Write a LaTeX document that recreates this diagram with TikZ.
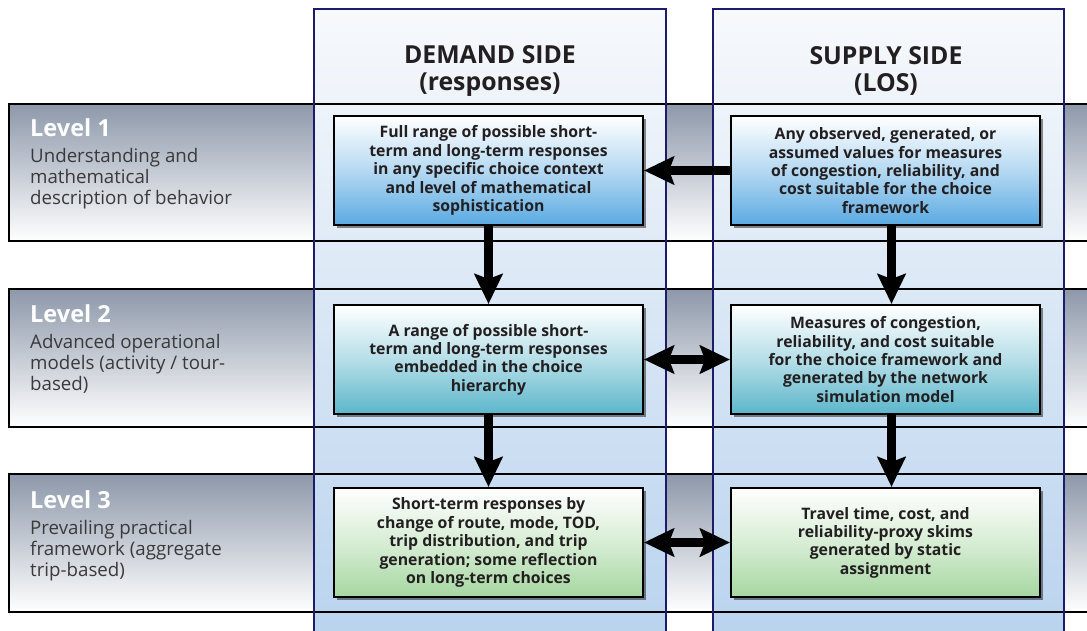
\documentclass[tikz,border=0pt]{standalone}
\usepackage{fontspec}
\setmainfont{Open Sans}
\usetikzlibrary{arrows.meta,positioning,shadows}
\definecolor{colnavy}{HTML}{1C1C6B}
\definecolor{bandgray}{HTML}{8D98AA}
\definecolor{coltop}{HTML}{F7F9FC}
\definecolor{colbottom}{HTML}{B9D3EE}
\definecolor{levelblue}{HTML}{5AAAE2}
\definecolor{levelteal}{HTML}{5CB6CB}
\definecolor{levelgreen}{HTML}{A6D7A1}
\definecolor{darktext}{HTML}{231F20}
\definecolor{desctext}{HTML}{3A3A3A}
\tikzset{
%Define standard arrow tip
>={Stealth[length=30pt,width=28pt,inset=5pt]},
%Define styles for bands and columns
band/.style={top color=bandgray, bottom color=white},
band line/.style={draw=black, line width=1.6pt},
column/.style={top color=coltop, bottom color=colbottom},
column line/.style={draw=colnavy, line width=1.3pt},
%Define styles for the boxes
choice box/.style={draw=black, line width=2pt, minimum width=309pt, minimum height=109pt,
  align=center, font=\bfseries\fontsize{15.8}{18.4}\selectfont, text=darktext, inner sep=2pt,
  drop shadow={shadow xshift=3pt, shadow yshift=-3pt, fill=black, opacity=.45}},
blue box/.style={top color=white, bottom color=levelblue, middle color=levelblue!45},
teal box/.style={top color=white, bottom color=levelteal, middle color=levelteal!45},
green box/.style={top color=white, bottom color=levelgreen, middle color=levelgreen!45},
%Define styles for texts
heading/.style={align=center, font=\bfseries\fontsize{24.8}{27}\selectfont, text=darktext},
level title/.style={anchor=base west, font=\bfseries\fontsize{23.5}{26}\selectfont, text=white, inner sep=0pt},
level text/.style={align=left, font=\fontsize{18.7}{20.6}\selectfont, text=desctext, inner sep=0pt},
%Define arrow styles
flow/.style={->, line width=8.5pt},
both flow/.style={<->, line width=8.5pt},
}

\begin{document}
\begin{tikzpicture}[x=1pt,y=-1pt]
    % Frame
    \clip (0,0) rectangle (1087,631);
    \fill[white] (0,0) rectangle (1087,631);

    % Bands of the three levels
    \fill[band] (9,104) rectangle (1095,241);
    \fill[band] (9,289) rectangle (1095,427);
    \fill[band] (9,474) rectangle (1095,612);

    % Columns
    \fill[column] (314,9) rectangle (666,640);
    \fill[column] (713,9) rectangle (1064,640);

    % Outlines
    \draw[band line] (9,104) rectangle (1095,241);
    \draw[band line] (9,289) rectangle (1095,427);
    \draw[band line] (9,474) rectangle (1095,612);
    \draw[column line] (314,640) -- (314,9) -- (666,9) -- (666,640);
    \draw[column line] (713,640) -- (713,9) -- (1064,9) -- (1064,640);

    % Headings
    \node[heading] (demand head) at (490,71) {DEMAND SIDE\\(responses)};
    \node[heading] (supply head) at (886,71) {SUPPLY SIDE\\(LOS)};

    % Levels
    \node[level title] (level1) at (30,137) {Level 1};
    \node[level text, below=11pt of level1.south west, anchor=north west] (level1 text)
      {Understanding and\\mathematical\\description of behavior};
    \node[level title] (level2) at (30,322) {Level 2};
    \node[level text, below=12pt of level2.south west, anchor=north west] (level2 text)
      {Advanced operational\\models (activity / tour-\\based)};
    \node[level title] (level3) at (30,508) {Level 3};
    \node[level text, below=12pt of level3.south west, anchor=north west] (level3 text)
      {Prevailing practical\\framework (aggregate\\trip-based)};

    % Boxes
    \node[choice box, blue box] (demand1) at (488.5,170.5)
      {Full range of possible short-\\term and long-term responses\\in any specific choice context\\and level of mathematical\\sophistication};
    \node[choice box, blue box, right=86pt of demand1] (supply1)
      {Any observed, generated, or\\assumed values for measures\\of congestion, reliability, and\\cost suitable for the choice\\framework};
    \node[choice box, teal box, below=78pt of demand1] (demand2)
      {A range of possible short-\\term and long-term responses\\embedded in the choice\\hierarchy};
    \node[choice box, teal box, right=86pt of demand2] (supply2)
      {Measures of congestion,\\reliability, and cost suitable\\for the choice framework and\\generated by the network\\simulation model};
    \node[choice box, green box, below=72pt of demand2] (demand3)
      {Short-term responses by\\change of route, mode, TOD,\\trip distribution, and trip\\generation; some reflection\\on long-term choices};
    \node[choice box, green box, right=86pt of demand3] (supply3)
      {Travel time, cost, and\\reliability-proxy skims\\generated by static\\assignment};

    % Connections
    \draw[flow] (supply1) -- (demand1);
    \draw[both flow] (demand2) -- (supply2);
    \draw[both flow] (demand3) -- (supply3);
    \draw[flow] (demand1) -- (demand2);
    \draw[flow] (demand2) -- (demand3);
    \draw[flow] ([xshift=6pt]supply1.south) -- ([xshift=6pt]supply2.north);
    \draw[flow] ([xshift=6pt]supply2.south) -- ([xshift=6pt]supply3.north);
\end{tikzpicture}
\end{document}
